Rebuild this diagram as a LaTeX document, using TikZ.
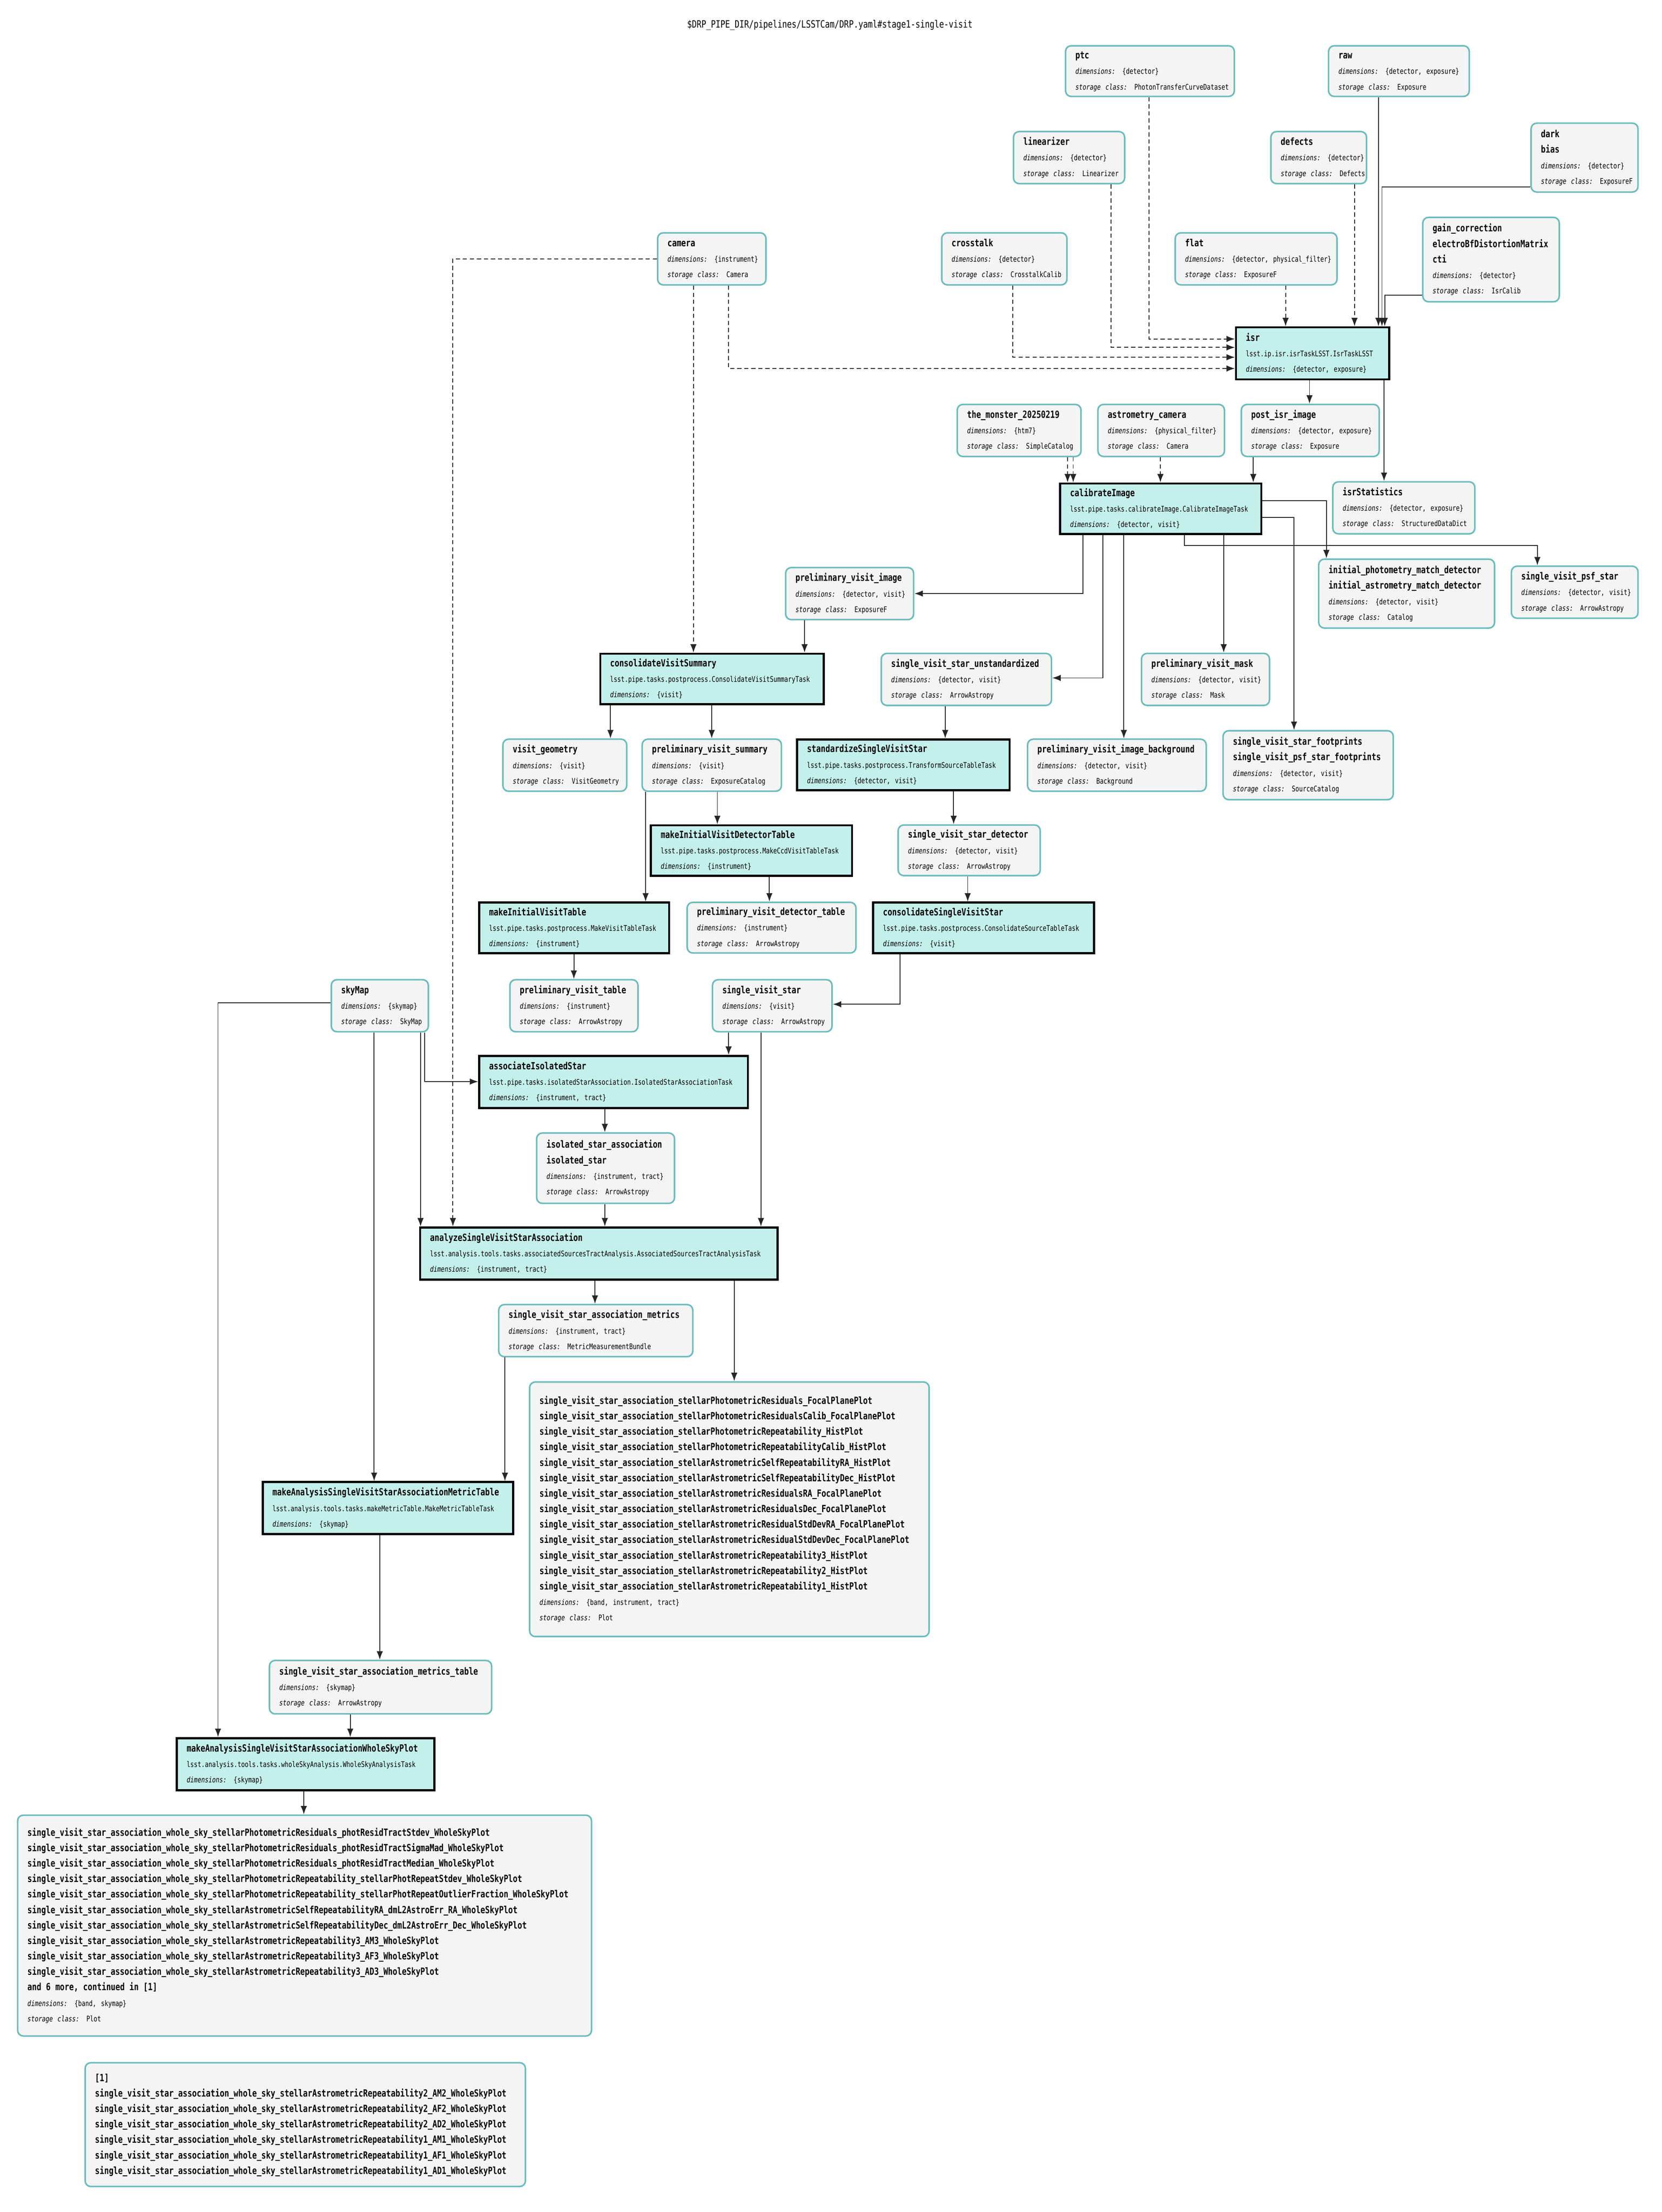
\documentclass[tikz,border=0pt]{standalone}
\usepackage{fontspec}
\setmainfont{DejaVu Sans Mono}[FakeStretch=0.78]
\usetikzlibrary{arrows.meta}
\definecolor{dsfill}{HTML}{F4F4F4}
\definecolor{dsdraw}{HTML}{6CBCBC}
\definecolor{tkfill}{HTML}{C4F0EC}
\tikzset{
  ds/.style={draw=dsdraw, fill=dsfill, line width=1.1pt, rounded corners=4pt, inner xsep=7pt, inner ysep=0pt, align=left},
  tk/.style={draw=black, fill=tkfill, line width=1.5pt, inner xsep=7pt, inner ysep=0pt, align=left},
  e/.style={draw=black!85, line width=0.6pt, -{Latex[length=6pt,width=4.5pt]}},
  ed/.style={e, dash pattern=on 3pt off 2pt},
}
\newcommand\mkbox[7]{%
  \pgfmathsetmacro\bw{#5-#3}\pgfmathsetmacro\bh{#6-#4}\pgfmathsetmacro\tw{#5-#3-14}%
  \node[#1, anchor=north west, minimum width=\bw pt, minimum height=\bh pt, text width=\tw pt] (#2) at (#3pt,-#4pt)
   {\fontsize{5.5}{11}\selectfont\begin{tabular}{@{}l@{}}#7\end{tabular}};}
\newcommand\Nm[1]{{\fontsize{7}{11}\selectfont\bfseries #1}}
\newcommand\Dm[1]{{\itshape dimensions:} #1}
\newcommand\Sc[1]{{\itshape storage class:} #1}
\begin{document}
\catcode`\_=12
\begin{tikzpicture}[x=1pt,y=1pt]
\useasboundingbox[fill=white] (0,0) rectangle (1181.3,-1572.7);
\node[font=\fontsize{7.2}{9}\selectfont] (title) at (590,-18) {\$DRP_PIPE_DIR/pipelines/LSSTCam/DRP.yaml\#stage1-single-visit};

% datasets and tasks
\mkbox{ds}{ptc}{757}{32}{877}{68}{\Nm{ptc}\\\Dm{\{detector\}}\\\Sc{PhotonTransferCurveDataset}}
\mkbox{ds}{raw}{944}{32}{1044}{68}{\Nm{raw}\\\Dm{\{detector, exposure\}}\\\Sc{Exposure}}
\mkbox{ds}{linearizer}{720}{93}{799}{130}{\Nm{linearizer}\\\Dm{\{detector\}}\\\Sc{Linearizer}}
\mkbox{ds}{defects}{903}{93}{971}{130}{\Nm{defects}\\\Dm{\{detector\}}\\\Sc{Defects}}
\mkbox{ds}{dark}{1088}{87}{1164}{136}{\Nm{dark}\\\Nm{bias}\\\Dm{\{detector\}}\\\Sc{ExposureF}}
\mkbox{ds}{camera}{467}{165}{544}{202}{\Nm{camera}\\\Dm{\{instrument\}}\\\Sc{Camera}}
\mkbox{ds}{crosstalk}{669}{165}{758}{202}{\Nm{crosstalk}\\\Dm{\{detector\}}\\\Sc{CrosstalkCalib}}
\mkbox{ds}{flat}{835}{165}{950}{202}{\Nm{flat}\\\Dm{\{detector, physical_filter\}}\\\Sc{ExposureF}}
\mkbox{ds}{gain}{1011}{154}{1108}{214}{\Nm{gain_correction}\\\Nm{electroBfDistortionMatrix}\\\Nm{cti}\\\Dm{\{detector\}}\\\Sc{IsrCalib}}
\mkbox{tk}{isr}{878}{232}{987}{269}{\Nm{isr}\\lsst.ip.isr.isrTaskLSST.IsrTaskLSST\\\Dm{\{detector, exposure\}}}
\mkbox{ds}{monster}{680}{287}{768}{324}{\Nm{the_monster_20250219}\\\Dm{\{htm7\}}\\\Sc{SimpleCatalog}}
\mkbox{ds}{astrocam}{780}{287}{870}{324}{\Nm{astrometry_camera}\\\Dm{\{physical_filter\}}\\\Sc{Camera}}
\mkbox{ds}{postisr}{882}{287}{980}{324}{\Nm{post_isr_image}\\\Dm{\{detector, exposure\}}\\\Sc{Exposure}}
\mkbox{tk}{calib}{753}{343}{896}{379}{\Nm{calibrateImage}\\lsst.pipe.tasks.calibrateImage.CalibrateImageTask\\\Dm{\{detector, visit\}}}
\mkbox{ds}{isrstat}{947}{342}{1048}{379}{\Nm{isrStatistics}\\\Dm{\{detector, exposure\}}\\\Sc{StructuredDataDict}}
\mkbox{ds}{initmatch}{937}{397}{1062}{446}{\Nm{initial_photometry_match_detector}\\\Nm{initial_astrometry_match_detector}\\\Dm{\{detector, visit\}}\\\Sc{Catalog}}
\mkbox{ds}{psfstar}{1074}{402}{1164}{439}{\Nm{single_visit_psf_star}\\\Dm{\{detector, visit\}}\\\Sc{ArrowAstropy}}
\mkbox{ds}{previmg}{558}{403}{649}{440}{\Nm{preliminary_visit_image}\\\Dm{\{detector, visit\}}\\\Sc{ExposureF}}
\mkbox{tk}{consvs}{426}{464}{585}{500}{\Nm{consolidateVisitSummary}\\lsst.pipe.tasks.postprocess.ConsolidateVisitSummaryTask\\\Dm{\{visit\}}}
\mkbox{ds}{unstd}{626}{464}{747}{501}{\Nm{single_visit_star_unstandardized}\\\Dm{\{detector, visit\}}\\\Sc{ArrowAstropy}}
\mkbox{ds}{mask}{811}{464}{902}{501}{\Nm{preliminary_visit_mask}\\\Dm{\{detector, visit\}}\\\Sc{Mask}}
\mkbox{ds}{visgeo}{357}{525}{445}{562}{\Nm{visit_geometry}\\\Dm{\{visit\}}\\\Sc{VisitGeometry}}
\mkbox{ds}{prevsum}{456}{525}{555}{562}{\Nm{preliminary_visit_summary}\\\Dm{\{visit\}}\\\Sc{ExposureCatalog}}
\mkbox{tk}{stdsvs}{566}{525}{717}{561}{\Nm{standardizeSingleVisitStar}\\lsst.pipe.tasks.postprocess.TransformSourceTableTask\\\Dm{\{detector, visit\}}}
\mkbox{ds}{bkg}{730}{525}{857}{562}{\Nm{preliminary_visit_image_background}\\\Dm{\{detector, visit\}}\\\Sc{Background}}
\mkbox{ds}{footp}{869}{519}{990}{568}{\Nm{single_visit_star_footprints}\\\Nm{single_visit_psf_star_footprints}\\\Dm{\{detector, visit\}}\\\Sc{SourceCatalog}}
\mkbox{tk}{mkivdt}{462}{586}{605}{622}{\Nm{makeInitialVisitDetectorTable}\\lsst.pipe.tasks.postprocess.MakeCcdVisitTableTask\\\Dm{\{instrument\}}}
\mkbox{ds}{svsdet}{638}{586}{739}{622}{\Nm{single_visit_star_detector}\\\Dm{\{detector, visit\}}\\\Sc{ArrowAstropy}}
\mkbox{tk}{mkivt}{340}{641}{475}{677}{\Nm{makeInitialVisitTable}\\lsst.pipe.tasks.postprocess.MakeVisitTableTask\\\Dm{\{instrument\}}}
\mkbox{ds}{pvdt}{488}{641}{608}{677}{\Nm{preliminary_visit_detector_table}\\\Dm{\{instrument\}}\\\Sc{ArrowAstropy}}
\mkbox{tk}{conssvs}{620}{641}{777}{677}{\Nm{consolidateSingleVisitStar}\\lsst.pipe.tasks.postprocess.ConsolidateSourceTableTask\\\Dm{\{visit\}}}
\mkbox{ds}{skymap}{235}{696}{304}{733}{\Nm{skyMap}\\\Dm{\{skymap\}}\\\Sc{SkyMap}}
\mkbox{ds}{pvt}{362}{696}{453}{733}{\Nm{preliminary_visit_table}\\\Dm{\{instrument\}}\\\Sc{ArrowAstropy}}
\mkbox{ds}{svs}{506}{696}{591}{733}{\Nm{single_visit_star}\\\Dm{\{visit\}}\\\Sc{ArrowAstropy}}
\mkbox{tk}{assoc}{340}{750}{531}{787}{\Nm{associateIsolatedStar}\\lsst.pipe.tasks.isolatedStarAssociation.IsolatedStarAssociationTask\\\Dm{\{instrument, tract\}}}
\mkbox{ds}{isoassoc}{381}{805}{479}{855}{\Nm{isolated_star_association}\\\Nm{isolated_star}\\\Dm{\{instrument, tract\}}\\\Sc{ArrowAstropy}}
\mkbox{tk}{analyze}{298}{872}{552}{909}{\Nm{analyzeSingleVisitStarAssociation}\\lsst.analysis.tools.tasks.associatedSourcesTractAnalysis.AssociatedSourcesTractAnalysisTask\\\Dm{\{instrument, tract\}}}
\mkbox{ds}{metrics}{354}{927}{492}{964}{\Nm{single_visit_star_association_metrics}\\\Dm{\{instrument, tract\}}\\\Sc{MetricMeasurementBundle}}
\mkbox{ds}{plots}{376}{982}{660}{1163}{%
\Nm{single_visit_star_association_stellarPhotometricResiduals_FocalPlanePlot}\\
\Nm{single_visit_star_association_stellarPhotometricResidualsCalib_FocalPlanePlot}\\
\Nm{single_visit_star_association_stellarPhotometricRepeatability_HistPlot}\\
\Nm{single_visit_star_association_stellarPhotometricRepeatabilityCalib_HistPlot}\\
\Nm{single_visit_star_association_stellarAstrometricSelfRepeatabilityRA_HistPlot}\\
\Nm{single_visit_star_association_stellarAstrometricSelfRepeatabilityDec_HistPlot}\\
\Nm{single_visit_star_association_stellarAstrometricResidualsRA_FocalPlanePlot}\\
\Nm{single_visit_star_association_stellarAstrometricResidualsDec_FocalPlanePlot}\\
\Nm{single_visit_star_association_stellarAstrometricResidualStdDevRA_FocalPlanePlot}\\
\Nm{single_visit_star_association_stellarAstrometricResidualStdDevDec_FocalPlanePlot}\\
\Nm{single_visit_star_association_stellarAstrometricRepeatability3_HistPlot}\\
\Nm{single_visit_star_association_stellarAstrometricRepeatability2_HistPlot}\\
\Nm{single_visit_star_association_stellarAstrometricRepeatability1_HistPlot}\\
\Dm{\{band, instrument, tract\}}\\\Sc{Plot}}
\mkbox{tk}{mkmt}{186}{1053}{364}{1090}{\Nm{makeAnalysisSingleVisitStarAssociationMetricTable}\\lsst.analysis.tools.tasks.makeMetricTable.MakeMetricTableTask\\\Dm{\{skymap\}}}
\mkbox{ds}{mtable}{191}{1180}{349}{1218}{\Nm{single_visit_star_association_metrics_table}\\\Dm{\{skymap\}}\\\Sc{ArrowAstropy}}
\mkbox{tk}{wsp}{125}{1235}{308}{1272}{\Nm{makeAnalysisSingleVisitStarAssociationWholeSkyPlot}\\lsst.analysis.tools.tasks.wholeSkyAnalysis.WholeSkyAnalysisTask\\\Dm{\{skymap\}}}
\mkbox{ds}{wslist}{12}{1290}{420}{1447}{%
\Nm{single_visit_star_association_whole_sky_stellarPhotometricResiduals_photResidTractStdev_WholeSkyPlot}\\
\Nm{single_visit_star_association_whole_sky_stellarPhotometricResiduals_photResidTractSigmaMad_WholeSkyPlot}\\
\Nm{single_visit_star_association_whole_sky_stellarPhotometricResiduals_photResidTractMedian_WholeSkyPlot}\\
\Nm{single_visit_star_association_whole_sky_stellarPhotometricRepeatability_stellarPhotRepeatStdev_WholeSkyPlot}\\
\Nm{single_visit_star_association_whole_sky_stellarPhotometricRepeatability_stellarPhotRepeatOutlierFraction_WholeSkyPlot}\\
\Nm{single_visit_star_association_whole_sky_stellarAstrometricSelfRepeatabilityRA_dmL2AstroErr_RA_WholeSkyPlot}\\
\Nm{single_visit_star_association_whole_sky_stellarAstrometricSelfRepeatabilityDec_dmL2AstroErr_Dec_WholeSkyPlot}\\
\Nm{single_visit_star_association_whole_sky_stellarAstrometricRepeatability3_AM3_WholeSkyPlot}\\
\Nm{single_visit_star_association_whole_sky_stellarAstrometricRepeatability3_AF3_WholeSkyPlot}\\
\Nm{single_visit_star_association_whole_sky_stellarAstrometricRepeatability3_AD3_WholeSkyPlot}\\
\Nm{and 6 more, continued in [1]}\\
\Dm{\{band, skymap\}}\\\Sc{Plot}}
\mkbox{ds}{cont}{60}{1466}{373}{1554}{%
\Nm{[1]}\\
\Nm{single_visit_star_association_whole_sky_stellarAstrometricRepeatability2_AM2_WholeSkyPlot}\\
\Nm{single_visit_star_association_whole_sky_stellarAstrometricRepeatability2_AF2_WholeSkyPlot}\\
\Nm{single_visit_star_association_whole_sky_stellarAstrometricRepeatability2_AD2_WholeSkyPlot}\\
\Nm{single_visit_star_association_whole_sky_stellarAstrometricRepeatability1_AM1_WholeSkyPlot}\\
\Nm{single_visit_star_association_whole_sky_stellarAstrometricRepeatability1_AF1_WholeSkyPlot}\\
\Nm{single_visit_star_association_whole_sky_stellarAstrometricRepeatability1_AD1_WholeSkyPlot}}

% edges into isr
\draw[ed] (ptc.south -| 817,0) |- (isr.west |- 0,-241);
\draw[ed] (linearizer.south -| 790,0) |- (isr.west |- 0,-247);
\draw[ed] (crosstalk.south -| 720,0) |- (isr.west |- 0,-254);
\draw[ed] (camera.south -| 518,0) |- (isr.west |- 0,-262);
\draw[ed] (flat.south -| 914,0) -- (isr.north -| 914,0);
\draw[ed] (defects.south -| 963,0) -- (isr.north -| 963,0);
\draw[e] (raw.south -| 980,0) -- (isr.north -| 980,0);
\draw[e] (dark.west |- 0,-133) -| (isr.north -| 982.5,0);
\draw[e] (gain.west |- 0,-210) -| (isr.north -| 984.5,0);
% camera others
\draw[ed] (camera.south -| 493,0) -- (consvs.north -| 493,0);
\draw[ed] (camera.west) -| (analyze.north -| 322,0);
% isr outputs
\draw[e] (isr.south -| 931,0) -- (postisr.north -| 931,0);
\draw[e] (isr.south -| 984,0) -- (isrstat.north -| 984,0);
% into calibrateImage
\draw[ed] (monster.south -| 759,0) -- (calib.north -| 759,0);
\draw[ed] (monster.south -| 763,0) -- (calib.north -| 763,0);
\draw[ed] (astrocam.south -| 825,0) -- (calib.north -| 825,0);
\draw[e] (postisr.south -| 891,0) -- (calib.north -| 891,0);
% calibrateImage outputs
\draw[e] (calib.east |- 0,-356) -| (initmatch.north -| 943,0);
\draw[e] (calib.east |- 0,-368) -| (footp.north -| 920,0);
\coordinate (bendpsf) at (842,-388);
\draw[e] (calib.south -| 842,0) -- (bendpsf) -| (psfstar.north -| 1093,0);
\draw[e] (calib.south -| 870,0) -- (mask.north -| 870,0);
\draw[e] (calib.south -| 799,0) -- (bkg.north -| 799,0);
\draw[e] (calib.south -| 784,0) |- (unstd.east |- 0,-482);
\draw[e] (calib.south -| 770,0) |- (previmg.east |- 0,-422);
% middle
\draw[e] (previmg.south -| 572,0) -- (consvs.north -| 572,0);
\draw[e] (consvs.south -| 434,0) -- (visgeo.north -| 434,0);
\draw[e] (consvs.south -| 506,0) -- (prevsum.north -| 506,0);
\draw[e] (unstd.south -| 672,0) -- (stdsvs.north -| 672,0);
\draw[e] (prevsum.south -| 510,0) -- (mkivdt.north -| 510,0);
\draw[e] (prevsum.south -| 459,0) -- (mkivt.north -| 459,0);
\draw[e] (stdsvs.south -| 678,0) -- (svsdet.north -| 678,0);
\draw[e] (mkivdt.south -| 547,0) -- (pvdt.north -| 547,0);
\draw[e] (svsdet.south -| 688,0) -- (conssvs.north -| 688,0);
\draw[e] (mkivt.south -| 408,0) -- (pvt.north -| 408,0);
\draw[e] (conssvs.south -| 640,0) |- (svs.east |- 0,-714);
% skymap
\draw[e] (skymap.south -| 302,0) |- (assoc.west |- 0,-769);
\draw[e] (skymap.south -| 299,0) -- (analyze.north -| 299,0);
\draw[e] (skymap.south -| 266,0) -- (mkmt.north -| 266,0);
\draw[e] (skymap.west |- 0,-713) -| (wsp.north -| 155,0);
% lower
\draw[e] (svs.south -| 518,0) -- (assoc.north -| 518,0);
\draw[e] (svs.south -| 541,0) -- (analyze.north -| 541,0);
\draw[e] (assoc.south -| 430,0) -- (isoassoc.north -| 430,0);
\draw[e] (isoassoc.south -| 430,0) -- (analyze.north -| 430,0);
\draw[e] (analyze.south -| 423,0) -- (metrics.north -| 423,0);
\draw[e] (analyze.south -| 522,0) -- (plots.north -| 522,0);
\draw[e] (metrics.south -| 359,0) -- (mkmt.north -| 359,0);
\draw[e] (mkmt.south -| 270,0) -- (mtable.north -| 270,0);
\draw[e] (mtable.south -| 249,0) -- (wsp.north -| 249,0);
\draw[e] (wsp.south -| 216,0) -- (wslist.north -| 216,0);
\end{tikzpicture}
\end{document}
